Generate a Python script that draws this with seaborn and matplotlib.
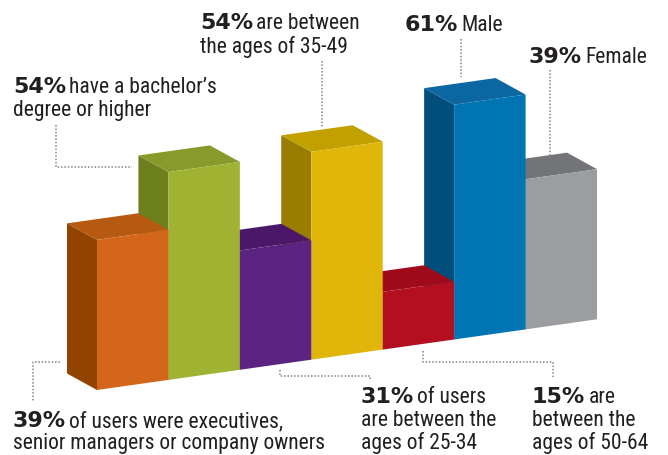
"""
LinkedIn-style user profile: pseudo-3D bar chart with callout notes
"""

import numpy as np
import pandas as pd
import matplotlib
matplotlib.use('Agg')
import matplotlib.pyplot as plt
import seaborn as sns
from matplotlib.patches import Polygon
from matplotlib.transforms import Affine2D

# data
segments = ['Executives', "Bachelor's+", 'Age 25-34', 'Age 35-49', 'Age 50-64', 'Male', 'Female']
values = [39, 54, 31, 54, 15, 61, 39]
front_colors = ['#D4661B', '#A0B232', '#5B2481', '#E0B60A', '#B30F21', '#0174B4', '#9C9DA0']
side_colors = ['#924300', '#6E7F1E', '#40175F', '#9A7C00', '#8A0A18', '#004E7B', '#6A6B6E']
top_colors = ['#B65A12', '#879A2A', '#4B1869', '#C2A000', '#A00B1C', '#0B66A2', '#737477']

# callouts: (bold number, lines of text)
notes_bold = ['54%', '54%', '61%', '39%', '39%', '31%', '15%']
notes_text = [
    ["have a bachelor\u2019s", "degree or higher"],
    ["are between", "the ages of 35-49"],
    ["Male"],
    ["Female"],
    ["of users were executives,", "senior managers or company owners"],
    ["of users", "are between the", "ages of 25-34"],
    ["are", "between the", "ages of 50-64"],
]

W, H = 668, 455
SLOT = 71.43      # px per bar
PPP = 3.85        # px per percent
LEFT_PX = 97      # left edge of first bar
BASE_PX = 390     # baseline under first bar
SLOPE_PX = 10.1   # baseline rise per bar
DEPTH_PX = (-30, 16.5)

fig = plt.figure(figsize=(W / 100, H / 100), dpi=100)
ax = fig.add_axes([0, 0, 1, 1])

sns.barplot(x=segments, y=values, hue=segments, palette=front_colors,
            width=1.0, saturation=1, legend=False, linewidth=0, ax=ax)

# axes limits so that 1 slot = SLOT px, 1 % = PPP px
ax.set_xlim(-0.5 - LEFT_PX / SLOT, -0.5 + (W - LEFT_PX) / SLOT)
ax.set_ylim((BASE_PX - H) / PPP, BASE_PX / PPP)
ax.axis('off')

# shear so the baseline climbs to the right
s = SLOPE_PX / PPP
shear = Affine2D(np.array([[1, 0, 0], [s, 1, 0.5 * s], [0, 0, 1]]))
trans = shear + ax.transData

ddx = DEPTH_PX[0] / SLOT
ddy = DEPTH_PX[1] / PPP - s * ddx

n = len(values)
for i, patch in enumerate(ax.patches[:n]):
    x0, w, h = patch.get_x(), patch.get_width(), patch.get_height()
    z = 10 * (n - i)
    patch.set_transform(trans)
    patch.set_zorder(z + 3)
    side = Polygon([(x0, 0), (x0, h), (x0 + ddx, h + ddy), (x0 + ddx, ddy)],
                   closed=True, facecolor=side_colors[i], edgecolor='none',
                   transform=trans, zorder=z + 1)
    top = Polygon([(x0, h), (x0 + w, h), (x0 + w + ddx, h + ddy), (x0 + ddx, h + ddy)],
                  closed=True, facecolor=top_colors[i], edgecolor='none',
                  transform=trans, zorder=z + 2)
    ax.add_patch(side)
    ax.add_patch(top)


def px(x, y):
    return x / W, 1 - y / H


# dotted leader lines (pixel coordinates)
leaders = [
    [(56, 125), (56, 167), (132, 167)],
    [(322, 61), (322, 127)],
    [(461, 39), (461, 77)],
    [(550, 70), (550, 160)],
    [(60, 362), (33, 362), (33, 401)],
    [(280, 370), (280, 376), (370, 376), (370, 381)],
    [(423, 351), (423, 362), (553, 362), (553, 377)],
]
for path in leaders:
    xs = [p[0] / W for p in path]
    ys = [1 - p[1] / H for p in path]
    fig.add_artist(plt.Line2D(xs, ys, color='#7C8791', lw=1.1,
                              linestyle=(0, (1, 1.2)), transform=fig.transFigure))

# callout text
anchors = [(13, 93), (200, 29), (405, 31), (529, 63), (13, 427), (361, 403), (532, 403)]
line_gap = [23, 24, 23, 23, 22, 23, 23]
text_color = '#231F20'
regular_family = ['Roboto Condensed', 'Roboto', 'DejaVu Sans']
renderer = fig.canvas.get_renderer()
for (x, y), bold, lines, gap in zip(anchors, notes_bold, notes_text, line_gap):
    t = fig.text(*px(x, y), bold, fontsize=16, fontweight='bold', family='DejaVu Sans',
                 color=text_color, va='baseline', ha='left')
    bw = t.get_window_extent(renderer).width
    fig.text(*px(x + bw + 3, y), lines[0], fontsize=15.5, family=regular_family,
             color=text_color, va='baseline', ha='left')
    for k, line in enumerate(lines[1:], start=1):
        fig.text(*px(x, y + k * gap), line, fontsize=15.5, family=regular_family,
                 color=text_color, va='baseline', ha='left')

fig.savefig('out.png', dpi=100, facecolor='white')
plt.close(fig)
